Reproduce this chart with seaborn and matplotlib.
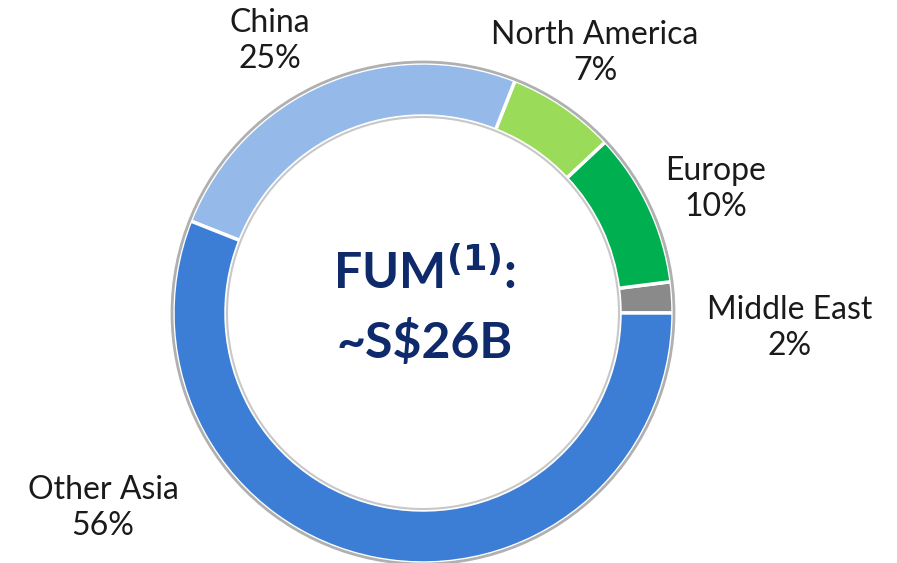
import matplotlib
matplotlib.use("Agg")
import matplotlib.pyplot as plt
import seaborn as sns
from matplotlib.patches import Circle

regions = ["Middle East", "Europe", "North America", "China", "Other Asia"]
shares = [2, 10, 7, 25, 56]
colors = ["#8A8A8A", "#00B050", "#9ADC5A", "#95B9E9", "#3C7DD6"]
label_pos = [(790, 328), (716, 189), (595, 53), (270, 41), (103, 508)]

sns.set_theme(style="white")
plt.rcParams['font.family'] = ['Lato', 'DejaVu Sans']

fig = plt.figure(figsize=(8.97, 5.63), dpi=100)
ax = fig.add_axes([0, 0, 1, 1])

cx, cy, R, W = 423, 313, 250, 53
# y axis points down, so counterclock=False looks counter-clockwise
wedges, _ = ax.pie(shares, colors=colors, startangle=0, counterclock=False,
                   center=(cx, cy), radius=R, frame=True,
                   wedgeprops=dict(width=W, edgecolor="white", linewidth=2.5))
ax.set_xlim(0, 897)
ax.set_ylim(563, 0)
ax.set_aspect('equal')
ax.axis('off')
ax.add_patch(Circle((cx, cy), R + 1, fill=False, edgecolor="#B0B0B0", linewidth=2))
ax.add_patch(Circle((cx, cy), R - W - 1, fill=False, edgecolor="#C8C8C8", linewidth=1.5))

for name, val, (x, y) in zip(regions, shares, label_pos):
    ax.text(x, y, f"{name}\n{val}%", ha="center", va="center", fontsize=23,
            color="#1a1a1a", linespacing=1.28)

ax.text(cx + 2, 272, r"FUM$^{\mathbf{(1)}}$:", ha="center", va="center", fontsize=36,
        fontweight="bold", color="#0E2A6B")
ax.text(cx + 2, 342, "~S$26B", ha="center", va="center", fontsize=36,
        fontweight="bold", color="#0E2A6B")

fig.savefig("out.png", dpi=100)
